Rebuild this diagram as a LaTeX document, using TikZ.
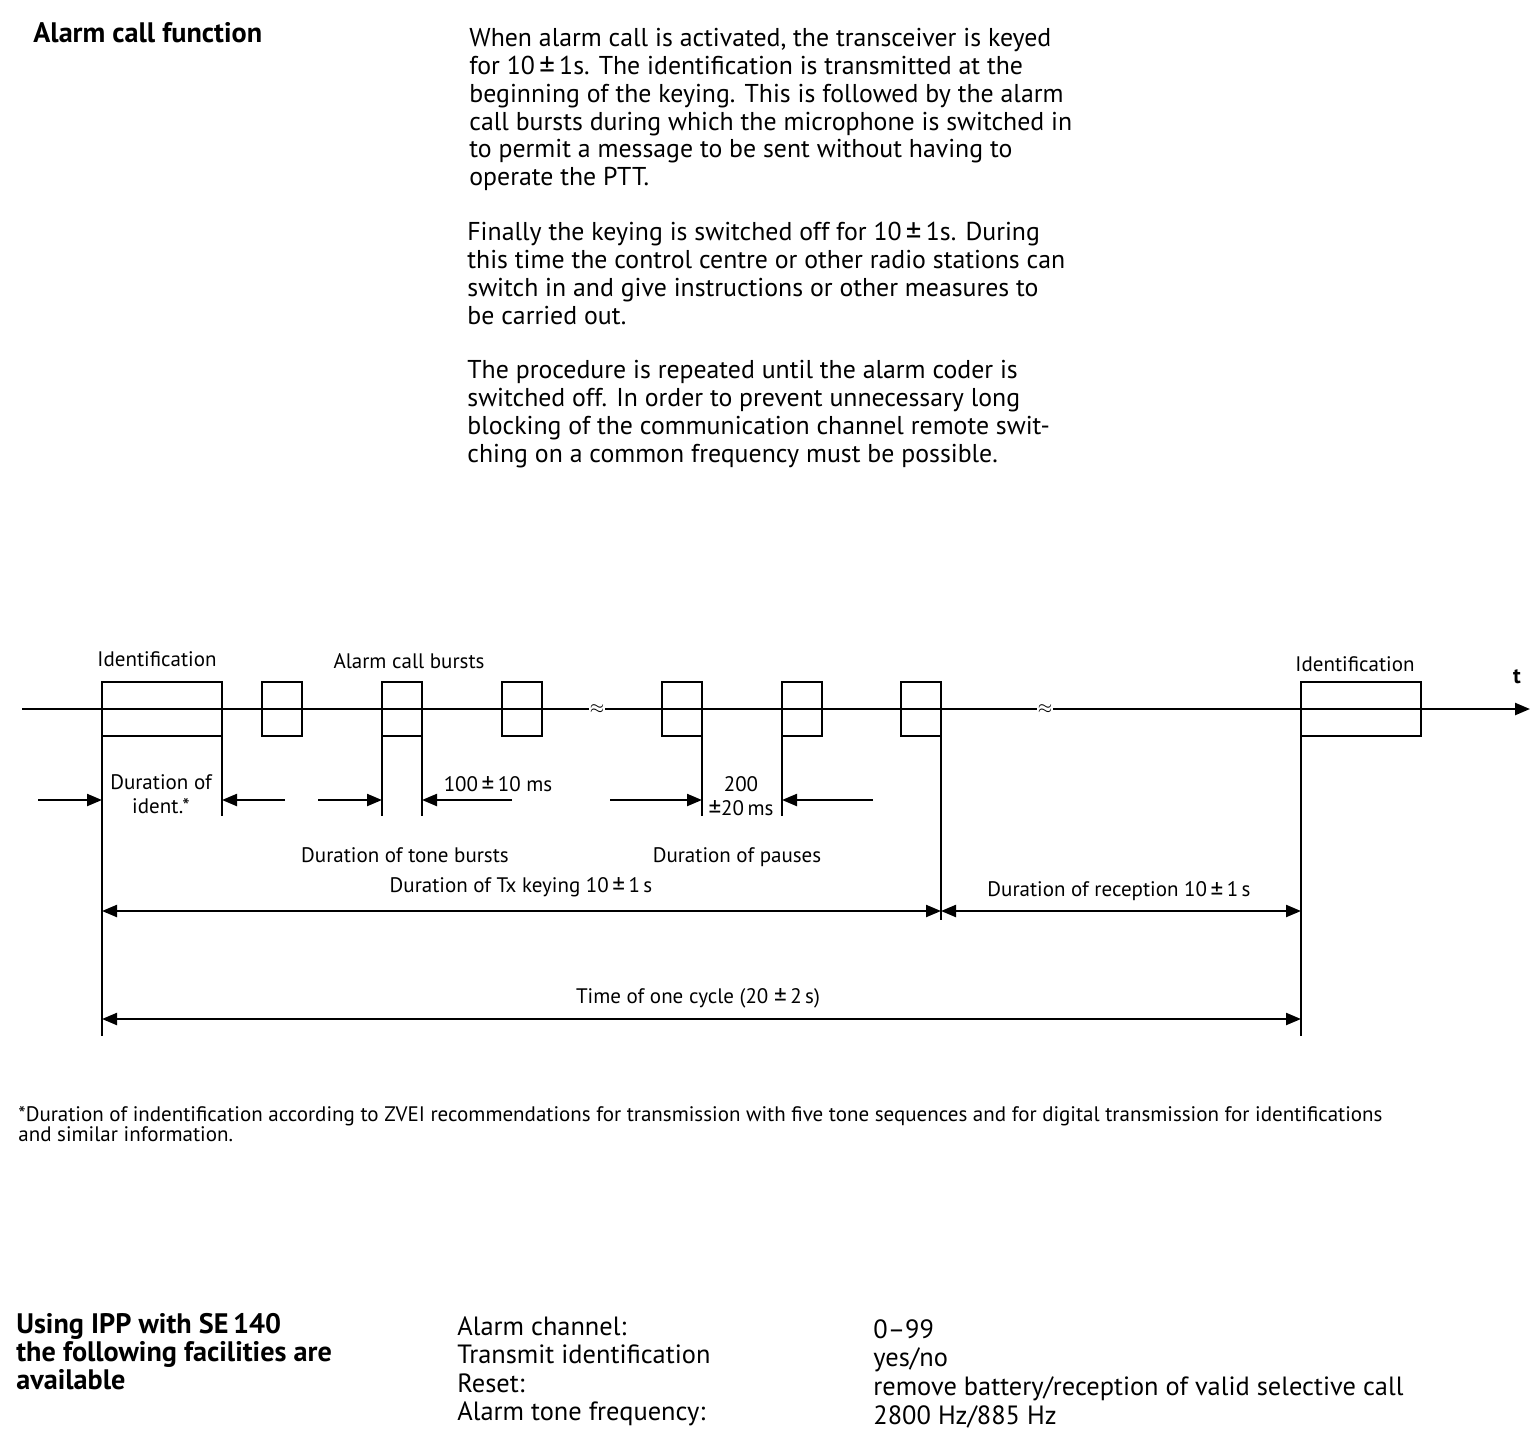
\documentclass[tikz,border=0pt]{standalone}
\usepackage{fontspec}
\setmainfont{PT Sans}
\usetikzlibrary{arrows.meta,positioning}

\newcommand{\pmglyph}{\raisebox{-0.25ex}[1.4ex][0pt]{\scalebox{1.2}{±}}}
\newcommand{\pmsign}{\,\pmglyph\,}

\tikzset{
  bodytxt/.style={font=\fontsize{12.9}{13.9}\selectfont,align=left,inner sep=0pt,anchor=north west},
  headtxt/.style={font=\bfseries\fontsize{14.1}{14}\selectfont,align=left,inner sep=0pt,anchor=north west},
  listtxt/.style={font=\fontsize{13.2}{14.3}\selectfont,align=left,inner sep=0pt,anchor=north west},
  lbl/.style={font=\fontsize{10.5}{11.8}\selectfont,align=center,inner sep=0pt},
  burst/.style={draw,line width=1pt,minimum width=20pt,minimum height=27pt,inner sep=0pt,outer sep=0pt},
  identbox/.style={burst,minimum width=60pt},
  extline/.style={line width=0.8pt},
  dimline/.style={line width=1.1pt},
  axisline/.style={line width=1.2pt},
  brk/.style={font=\small,fill=white,inner sep=0.4pt}
}

\begin{document}
\begin{tikzpicture}[x=0.5pt,y=-0.5pt,>={Triangle[length=7.5pt,width=6pt]}]
 \useasboundingbox (0,0) rectangle (1538,1440);

 % text above the diagram
 \node[headtxt] (title) at (33,22) {Alarm call function};
 \node[bodytxt] (para1) at (469,28)
  {When alarm call is activated, the transceiver is keyed\\
   for 10\pmsign1s. The identification is transmitted at the\\
   beginning of the keying. This is followed by the alarm\\
   call bursts during which the microphone is switched in\\
   to permit a message to be sent without having to\\
   operate the PTT.};
 \node[bodytxt] (para2) at (467,222)
  {Finally the keying is switched off for 10\pmsign1s. During\\
   this time the control centre or other radio stations can\\
   switch in and give instructions or other measures to\\
   be carried out.};
 \node[bodytxt] (para3) at (467,360)
  {The procedure is repeated until the alarm coder is\\
   switched off. In order to prevent unnecessary long\\
   blocking of the communication channel remote swit-\\
   ching on a common frequency must be possible.};

 % time axis with the bursts
 \node[identbox] (id1) at (162,709) {};
 \node[burst] (b1) at (282,709) {};
 \node[burst] (b2) at (402,709) {};
 \node[burst] (b3) at (522,709) {};
 \node[burst] (b4) at (682,709) {};
 \node[burst] (b5) at (802,709) {};
 \node[burst] (b6) at (921,709) {};
 \node[identbox] (id2) at (1361,709) {};
 \coordinate (axL) at (22,709);
 \coordinate (axR) at (1530,709);
 \draw[axisline,->] (axL) -- (axR);
 \node[brk] (br1) at (597,709) {$\approx$};
 \node[brk] (br2) at (1045,709) {$\approx$};
 \node[font=\bfseries\fontsize{11}{12}\selectfont] (tlbl) at (1517,677) {t};

 \node[lbl] (lid1) at (157,659) {Identification};
 \node[lbl] (lbursts) at (409,661) {Alarm call bursts};
 \node[lbl] (lid2) at (1355,664) {Identification};

 % extension lines
 \coordinate (shortend) at (0,816);
 \coordinate (txend) at (0,920);
 \coordinate (longend) at (0,1036);
 \foreach \n/\a in {id1/south east,b2/south west,b2/south east,b4/south east,b5/south west}
  \draw[extline] (\n.\a) -- (\n.\a |- shortend);
 \draw[extline] (id1.south west) -- (id1.south west |- longend);
 \draw[extline] (b6.south east) -- (b6.south east |- txend);
 \draw[extline] (id2.south west) -- (id2.south west |- longend);

 % small dimensions
 \coordinate (a1) at (38,800);
 \coordinate (a2) at (285,800);
 \coordinate (a3) at (318,800);
 \coordinate (a4) at (512,800);
 \coordinate (a5) at (610,800);
 \coordinate (a6) at (873,800);
 \draw[dimline,->] (a1) -- (a1 -| id1.south west);
 \draw[dimline,->] (a2) -- (a2 -| id1.south east);
 \draw[dimline,->] (a3) -- (a3 -| b2.south west);
 \draw[dimline,->] (a4) -- (a4 -| b2.south east);
 \draw[dimline,->] (a5) -- (a5 -| b4.south east);
 \draw[dimline,->] (a6) -- (a6 -| b5.south west);
 \node[lbl] (ldurid) at (161,794) {Duration of\\ident.*};
 \node[lbl] (ltone) at (498,784) {100\pmsign10 ms};
 \node[lbl] (lpause) at (741,796) {200\\\pmglyph20\,ms};
 \node[lbl] (ltonedur) at (405,855) {Duration of tone bursts};
 \node[lbl] (lpausedur) at (737,857) {Duration of pauses};

 % long dimensions
 \coordinate (tx) at (0,911);
 \coordinate (cyc) at (0,1019);
 \draw[dimline,<->] (tx -| id1.south west) -- (tx -| b6.south east);
 \draw[dimline,<->] (tx -| b6.south east) -- (tx -| id2.south west);
 \draw[dimline,<->] (cyc -| id1.south west) -- (cyc -| id2.south west);
 \node[lbl] (ltx) at (521,887) {Duration of Tx keying 10\pmsign1\,s};
 \node[lbl] (lrx) at (1119,891) {Duration of reception 10\pmsign1\,s};
 \node[lbl] (lcyc) at (698,998) {Time of one cycle (20 \pmglyph\,2\,s)};

 % footnote
 \node[font=\fontsize{10.5}{10}\selectfont,align=left,inner sep=0pt,anchor=north west] (fnote) at (18,1106)
  {*Duration of indentification according to ZVEI recommendations for transmission with five tone sequences and for digital transmission for identifications\\
   and similar information.};

 % facilities
 \node[headtxt] (ipp) at (16,1313) {Using IPP with SE\,140\\the following facilities are\\available};
 \node[listtxt] (keys) at (457,1316) {Alarm channel:\\Transmit identification\\Reset:\\Alarm tone frequency:};
 \node[listtxt] (vals) at (873,1319) {0–99\\yes/no\\remove battery/reception of valid selective call\\2800 Hz/885 Hz};
\end{tikzpicture}
\end{document}
